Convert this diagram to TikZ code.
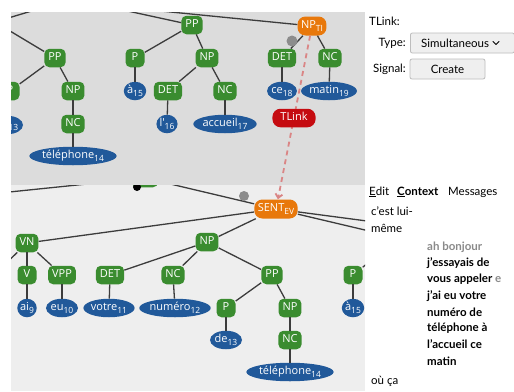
\documentclass[tikz,border=0pt]{standalone}
\usepackage{fontspec}
\setmainfont{Lato}
\newfontfamily\nodefont{Open Sans}
\usetikzlibrary{shapes.geometric,arrows.meta}

\definecolor{panelA}{HTML}{DCDCDC}
\definecolor{panelB}{HTML}{EEEEEE}
\definecolor{catgreen}{HTML}{3A8C2F}
\definecolor{tokblue}{HTML}{21599A}
\definecolor{evorange}{HTML}{E8780B}
\definecolor{linkred}{HTML}{C50B10}
\definecolor{edgegray}{HTML}{3C3C3C}
\definecolor{handlegray}{HTML}{8C8C8C}
\definecolor{dashpink}{HTML}{DA8585}
\definecolor{btnfill}{HTML}{EFEFEF}
\definecolor{btnline}{HTML}{BDBDBD}
\definecolor{softgray}{HTML}{8A8A8A}

% subscript index on tokens and labels
\newcommand\lsub[1]{\raisebox{-0.45ex}{\fontsize{8.5}{9}\selectfont#1}}

\tikzset{
  nodetext/.style={text=white, font=\nodefont\fontsize{11}{13}\selectfont,
    text height=8pt, text depth=2.5pt},
  cat/.style={nodetext, rectangle, rounded corners=5pt, fill=catgreen,
    minimum height=18.5pt, minimum width=19pt, inner xsep=4pt, inner ysep=0pt},
  tok/.style={nodetext, ellipse, fill=tokblue, minimum height=18.5pt,
    inner xsep=0pt, inner ysep=0pt},
  ev/.style={nodetext, rectangle, rounded corners=8pt, fill=evorange,
    minimum height=19pt, inner xsep=3.5pt, inner ysep=0pt},
  tlinkbox/.style={nodetext, rectangle, rounded corners=8pt, fill=linkred,
    minimum height=18.5pt, inner xsep=8pt, inner ysep=0pt},
  branch/.style={draw=edgegray, line width=1.3pt},
  handle/.style={circle, fill=handlegray, inner sep=0pt, minimum size=11pt},
  linkdash/.style={draw=dashpink, line width=1.8pt, dash pattern=on 5pt off 4pt,
    -{Straight Barb[length=4pt,width=7pt]}},
  gui/.style={font=\fontsize{11.5}{13.5}\selectfont, inner sep=0pt, text=black},
  guib/.style={gui, font=\fontsize{11.5}{13.5}\selectfont\bfseries},
  btn/.style={draw=btnline, fill=btnfill, rounded corners=2pt, line width=0.8pt,
    inner sep=0pt, gui},
}

\begin{document}
\begin{tikzpicture}[x=1pt, y=-1pt]
\useasboundingbox (0,0) rectangle (514,391);
\fill[white] (0,0) rectangle (514,391);
\fill[panelA] (11,12) rectangle (365,185);
\fill[panelB] (11,185) rectangle (365,391);

% ---------- upper tree view ----------
\begin{scope}
\clip (11,12) rectangle (365,185);
\coordinate (tUp) at (100,5);
\coordinate (tOffL) at (-5,22);
\coordinate (tOffUp) at (95,-8);

\node[cat] (tPPa) at (55,58) {PP};
\node[cat] (tP1) at (10,91) {P};
\node[cat] (tNPa) at (73,91) {NP};
\node[tok] (tDe) at (7,125) {de\lsub{13}};
\node[cat] (tNCa) at (73,124) {NC};
\node[tok] (tTel) at (73,156) {téléphone\lsub{14}};

\node[cat] (tPPb) at (192,25) {PP};
\node[cat] (tPb) at (135,58) {P};
\node[tok] (tA) at (135,91) {à\lsub{15}};
\node[cat] (tNPb) at (207,58) {NP};
\node[cat] (tDETb) at (168,91) {DET};
\node[cat] (tNCb) at (225,91) {NC};
\node[tok] (tL) at (167,124) {l'\lsub{16}};
\node[tok] (tAcc) at (225,124) {accueil\lsub{17}};

\node[ev] (tNPTI) at (312,26) {NP\lsub{TI}};
\node[cat] (tDETc) at (282,58) {DET};
\node[cat] (tNCc) at (330,58) {NC};
\node[tok] (tCe) at (282,91) {ce\lsub{18}};
\node[tok] (tMatin) at (329,91) {matin\lsub{19}};

\draw[branch] (tOffL) -- (tOffUp);
\draw[branch] (tOffL) -- (tPPa);
\draw[branch] (tPPa) -- (tP1);
\draw[branch] (tPPa) -- (tNPa);
\draw[branch] (tP1) -- (tDe);
\draw[branch] (tNPa) -- (tNCa);
\draw[branch] (tNCa) -- (tTel);
\draw[branch] (tUp) -- (tPPb);
\draw[branch] (tUp) -- (tNPTI);
\draw[branch] (tPPb) -- (tPb);
\draw[branch] (tPPb) -- (tNPb);
\draw[branch] (tPb) -- (tA);
\draw[branch] (tNPb) -- (tDETb);
\draw[branch] (tNPb) -- (tNCb);
\draw[branch] (tDETb) -- (tL);
\draw[branch] (tNCb) -- (tAcc);
\draw[branch] (tNPTI) -- (tDETc);
\draw[branch] (tNPTI) -- (tNCc);
\draw[branch] (tDETc) -- (tCe);
\draw[branch] (tNCc) -- (tMatin);
\node[handle] (tHandle) at (292,41) {};
\end{scope}

% ---------- lower tree view ----------
\begin{scope}
\clip (11,185) rectangle (365,391);
\coordinate (bOffL) at (-10,194);
\coordinate (bOffVN) at (-3,272);
\coordinate (bOffR1) at (420,228);
\coordinate (bOffR2) at (420,243);
\coordinate (bOffP) at (394,242);

\node[cat, minimum width=26pt] (bTop) at (145,178) {};
\node[ev] (bSENT) at (276,209) {SENT\lsub{EV}};
\node[cat] (bVN) at (27,243) {VN};
\node[cat] (bNP) at (207,242) {NP};
\node[cat] (bV) at (27,275) {V};
\node[cat] (bVPP) at (62,275) {VPP};
\node[cat] (bDET) at (110,275) {DET};
\node[cat] (bNC) at (173,275) {NC};
\node[cat] (bPP) at (272,275) {PP};
\node[cat] (bP2) at (353,275) {P};
\node[tok] (bAi) at (27,308) {ai\lsub{9}};
\node[tok] (bEu) at (62,308) {eu\lsub{10}};
\node[tok] (bVotre) at (109,308) {votre\lsub{11}};
\node[tok] (bNum) at (175,308) {numéro\lsub{12}};
\node[cat] (bP) at (226,308) {P};
\node[cat] (bNP2) at (290,308) {NP};
\node[tok] (bA) at (353,308) {à\lsub{15}};
\node[tok] (bDe) at (226,340) {de\lsub{13}};
\node[cat] (bNC2) at (290,340) {NC};
\node[tok] (bTel) at (290,372) {téléphone\lsub{14}};

\draw[branch] (bOffL) -- (bTop);
\draw[branch] (bTop) -- (bSENT);
\draw[branch] (bSENT) -- (bVN);
\draw[branch] (bSENT) -- (bNP);
\draw[branch] (bSENT) -- (bOffR1);
\draw[branch] (bSENT) -- (bOffR2);
\draw[branch] (bVN) -- (bOffVN);
\draw[branch] (bVN) -- (bV);
\draw[branch] (bVN) -- (bVPP);
\draw[branch] (bV) -- (bAi);
\draw[branch] (bVPP) -- (bEu);
\draw[branch] (bNP) -- (bDET);
\draw[branch] (bNP) -- (bNC);
\draw[branch] (bNP) -- (bPP);
\draw[branch] (bDET) -- (bVotre);
\draw[branch] (bNC) -- (bNum);
\draw[branch] (bPP) -- (bP);
\draw[branch] (bPP) -- (bNP2);
\draw[branch] (bP) -- (bDe);
\draw[branch] (bNP2) -- (bNC2);
\draw[branch] (bNC2) -- (bTel);
\draw[branch] (bP2) -- (bOffP);
\draw[branch] (bP2) -- (bA);
\node[circle, fill=black, inner sep=0pt, minimum size=8pt] (bDot) at (137,187) {};
\node[handle, minimum size=10pt] (bHandle) at (244,196) {};
\end{scope}

% ---------- temporal link between the two views ----------
\draw[linkdash] (tNPTI) -- (bSENT);
\node[tlinkbox] (tLink) at (294,118) {TLink};

% ---------- link editor ----------
\node[gui, anchor=west] (tlinkLbl) at (369,21) {TLink:};
\node[gui, anchor=east] (typeLbl) at (406,43) {Type:};
\node[btn, anchor=west, minimum width=104pt, minimum height=20pt] (typeBox) at (410,43) {};
\node[gui, anchor=west] (typeVal) at (421,43) {Simultaneous};
\coordinate (chevA) at (493,41.5);
\coordinate (chevB) at (496,44.5);
\coordinate (chevC) at (499,41.5);
\draw[line width=0.9pt, line cap=round, line join=round] (chevA) -- (chevB) -- (chevC);
\node[gui, anchor=east] (sigLbl) at (406,69) {Signal:};
\node[btn, minimum width=75pt, minimum height=20pt] (createBtn) at (447.5,69) {Create};

% ---------- context pane ----------
\node[gui, anchor=west] (tabEdit) at (369,192) {\underline{E}dit};
\node[guib, anchor=west] (tabContext) at (397,192) {\underline{C}ontext};
\node[gui, anchor=west] (tabMsg) at (448,192) {Messages};
\node[gui, anchor=west] (ctxA) at (371,211) {c'est lui-};
\node[gui, anchor=west] (ctxB) at (371,228) {même};
\node[guib, anchor=west, text=softgray] (ctxC) at (427,247) {ah bonjour};
\node[guib, anchor=west] (ctxD) at (427,263) {j'essayais de};
\node[guib, anchor=west] (ctxE) at (427,279) {vous appeler \textcolor{softgray}{e}};
\node[guib, anchor=west] (ctxF) at (427,296) {j'ai eu votre};
\node[guib, anchor=west] (ctxG) at (427,312) {numéro de};
\node[guib, anchor=west] (ctxH) at (427,328) {téléphone à};
\node[guib, anchor=west] (ctxI) at (427,344) {l'accueil ce};
\node[guib, anchor=west] (ctxJ) at (427,361) {matin};
\node[gui, anchor=west] (ctxK) at (371,381) {où ça};
\end{tikzpicture}
\end{document}
